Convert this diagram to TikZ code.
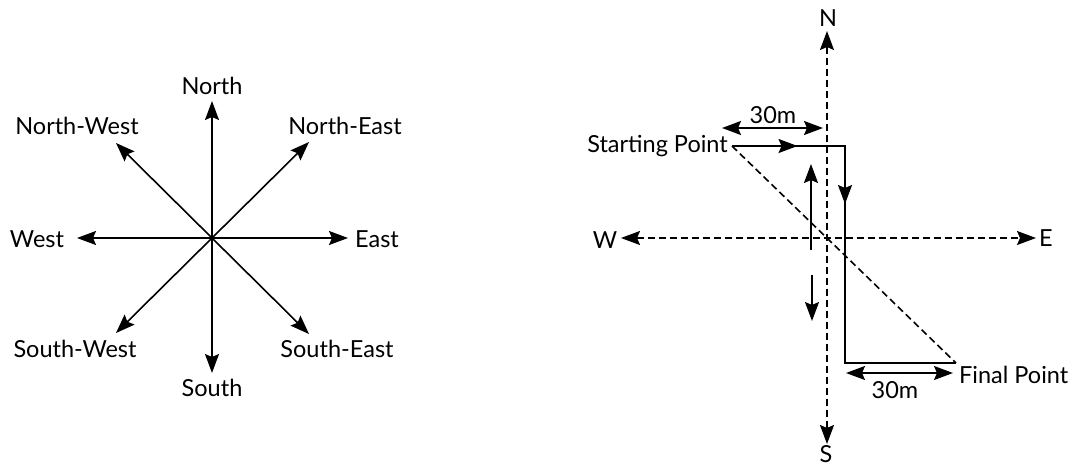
\documentclass[tikz,border=0pt]{standalone}
\usepackage{fontspec}
\setmainfont{Lato}
\usetikzlibrary{arrows.meta,calc}

\tikzset{
    arr/.style={line width=1.6pt,-{Stealth[length=19pt,width=14pt,inset=3pt]}},
    darr/.style={line width=1.6pt,{Stealth[length=19pt,width=14pt,inset=3pt]}-{Stealth[length=19pt,width=14pt,inset=3pt]}},
    dashline/.style={dash pattern=on 7pt off 4pt},
    lab/.style={font=\fontsize{23.5}{26}\selectfont,inner sep=1pt}
}

\begin{document}
\begin{tikzpicture}[x=1pt,y=-1pt]
        \useasboundingbox (0,0) rectangle (1077,466);
        % 左图: 八个方向
        \coordinate (O) at (212,238);
        \coordinate (n)  at (212,101);
        \coordinate (s)  at (212,373);
        \coordinate (w)  at (77,238);
        \coordinate (e)  at (348,238);
        \coordinate (ne) at (309,142);
        \coordinate (nw) at (116,143);
        \coordinate (sw) at (116,333);
        \coordinate (se) at (309,334);
        \foreach \d in {n,s,w,e,ne,nw,sw,se}
            \draw [arr] (O) -- (\d);
        % 方向名称
        \node [lab] (north) at (212,86) {North};
        \node [lab] (south) at (212,388) {South};
        \node [lab] (west) at (37,239) {West};
        \node [lab] (east) at (377,239) {East};
        \node [lab] (northwest) at (77,126) {North-West};
        \node [lab] (northeast) at (345,126) {North-East};
        \node [lab] (southwest) at (75,349) {South-West};
        \node [lab] (southeast) at (337,349) {South-East};

        % 右图: 坐标轴 (虚线)
        \coordinate (N) at (827,31);
        \coordinate (S) at (827,444);
        \coordinate (W) at (621,238);
        \coordinate (E) at (1036,238);
        \draw [darr,dashline] (W) -- (E);
        \draw [darr,dashline] (N) -- (S);
        \node [lab] (Nl) at (828,18) {N};
        \node [lab] (Sl) at (826,454) {S};
        \node [lab] (Wl) at (605,240) {W};
        \node [lab] (El) at (1046,238) {E};

        % 行走路线
        \coordinate (A) at (732,146);
        \coordinate (B) at (845,146);
        \coordinate (C) at (845,363);
        \coordinate (D) at (956,363);
        \coordinate (AB) at ($(A)!.58!(B)$);
        \coordinate (BC) at (845,204);
        \draw [line width=1.6pt] (A) -- (B) -- (C) -- (D);
        \draw [arr] (A) -- (AB);
        \draw [arr] (B) -- (BC);
        % 起点与终点连线
        \draw [line width=1.6pt,dashline] (A) -- (D);
        \node [lab,anchor=east] (start) at (729,146) {Starting Point};
        \node [lab,anchor=west] (final) at (958,375) {Final Point};

        % 上下小箭头
        \coordinate (u1) at (811,250);
        \coordinate (u2) at (811,164);
        \coordinate (d1) at (812,275);
        \coordinate (d2) at (812,321);
        \draw [arr] (u1) -- (u2);
        \draw [arr] (d1) -- (d2);

        % 距离标注
        \coordinate (m1) at (722,128);
        \coordinate (m2) at (823,128);
        \draw [darr] (m1) -- (m2);
        \node [lab] (top30) at (773,115) {30m};
        \coordinate (m3) at (846,373);
        \coordinate (m4) at (953,373);
        \draw [darr] (m3) -- (m4);
        \node [lab] (bot30) at (895,390) {30m};
    \end{tikzpicture}
\end{document}
